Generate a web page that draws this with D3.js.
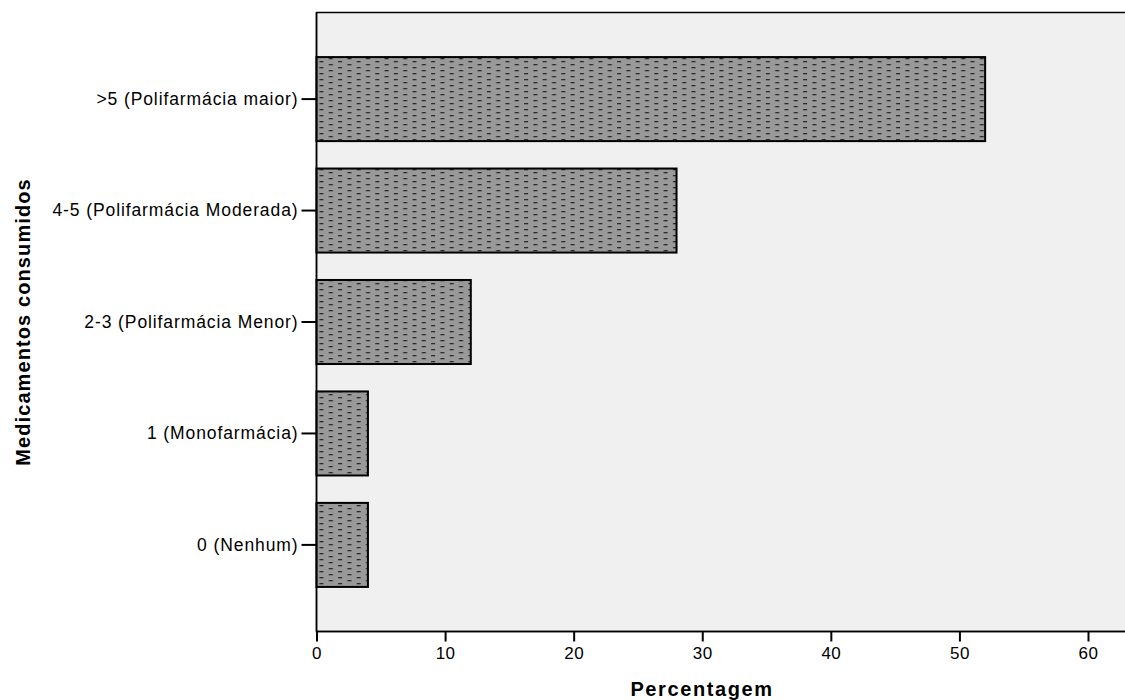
<!DOCTYPE html>
<html>
<head>
<meta charset="utf-8">
<script src="https://cdn.jsdelivr.net/npm/d3@7"></script>
<style>
  body { margin: 0; background: #fff; }
  svg { display: block; }
</style>
</head>
<body>
<svg id="chart" width="1125" height="700"></svg>
<script>
const categories = [">5 (Polifarmácia maior)", "4-5 (Polifarmácia Moderada)", "2-3 (Polifarmácia Menor)", "1 (Monofarmácia)", "0 (Nenhum)"];
const values = [52, 28, 12, 4, 4];
const xTicks = [0, 10, 20, 30, 40, 50, 60];
const xTitle = "Percentagem";
const yTitle = "Medicamentos consumidos";

(function () {
const svg = d3.select("#chart");
const pLeft = 316.5, pTop = 12.5, pBottom = 631.5;
const FONT = "Liberation Sans, Arial, sans-serif";

const x = d3.scaleLinear().domain([0, 60]).range([pLeft, 1088]);
const y = d3.scaleBand().domain(categories).range([pTop, pBottom]).paddingInner(0.246).paddingOuter(0.40);

const defs = svg.append("defs");
const pat = defs.append("pattern").attr("id", "dots").attr("patternUnits", "userSpaceOnUse")
  .attr("width", 18.6).attr("height", 6).attr("x", pLeft + 2).attr("y", 0);
pat.append("rect").attr("width", 18.6).attr("height", 6).attr("fill", "#999999");
pat.append("rect").attr("x", 1).attr("y", 1).attr("width", 4).attr("height", 1.3).attr("fill", "#2a2a2a");
pat.append("rect").attr("x", 10.3).attr("y", 4).attr("width", 4).attr("height", 1.3).attr("fill", "#2a2a2a");

// plot background
svg.append("rect").attr("x", pLeft).attr("y", pTop).attr("width", 1130 - pLeft).attr("height", pBottom - pTop)
  .attr("fill", "#f0f0f0").attr("stroke", "#000").attr("stroke-width", 1.5);

// bars
svg.selectAll("rect.bar").data(categories).enter().append("rect")
  .attr("class", "bar")
  .attr("x", x(0))
  .attr("y", d => y(d))
  .attr("width", (d, i) => x(values[i]) - x(0))
  .attr("height", y.bandwidth())
  .attr("fill", "url(#dots)")
  .attr("stroke", "#000").attr("stroke-width", 2);

// x axis
const xAxis = svg.append("g").attr("transform", `translate(0,${pBottom})`)
  .call(d3.axisBottom(x).tickValues(xTicks).tickSize(10).tickPadding(5).tickFormat(d3.format("d")));
xAxis.select(".domain").remove();
xAxis.selectAll("line").attr("stroke", "#000").attr("stroke-width", 2);
xAxis.selectAll("text").attr("font-family", FONT).attr("font-size", 17).attr("letter-spacing", 0.5).attr("fill", "#000");

// y axis
const yAxis = svg.append("g").attr("transform", `translate(${pLeft},0)`)
  .call(d3.axisLeft(y).tickSize(15).tickPadding(3));
yAxis.select(".domain").remove();
yAxis.selectAll("line").attr("stroke", "#000").attr("stroke-width", 2);
yAxis.selectAll("text").attr("font-family", FONT).attr("font-size", 17.5).attr("letter-spacing", 0.9).attr("fill", "#000");

// redraw left & bottom frame on top
svg.append("line").attr("x1", pLeft).attr("x2", pLeft).attr("y1", pTop).attr("y2", pBottom).attr("stroke", "#000").attr("stroke-width", 1.5);
svg.append("line").attr("x1", pLeft).attr("x2", 1125).attr("y1", pBottom).attr("y2", pBottom).attr("stroke", "#000").attr("stroke-width", 1.5);

// titles
svg.append("text").attr("x", 702).attr("y", 696).attr("text-anchor", "middle")
  .attr("font-family", FONT).attr("font-weight", "bold")
  .attr("font-size", 20).attr("letter-spacing", 1.6).attr("fill", "#000").text(xTitle);
svg.append("text").attr("transform", "translate(30,322) rotate(-90)").attr("text-anchor", "middle")
  .attr("font-family", FONT).attr("font-weight", "bold")
  .attr("font-size", 20).attr("letter-spacing", 1.1).attr("fill", "#000").text(yTitle);
})();
</script>
</body>
</html>
